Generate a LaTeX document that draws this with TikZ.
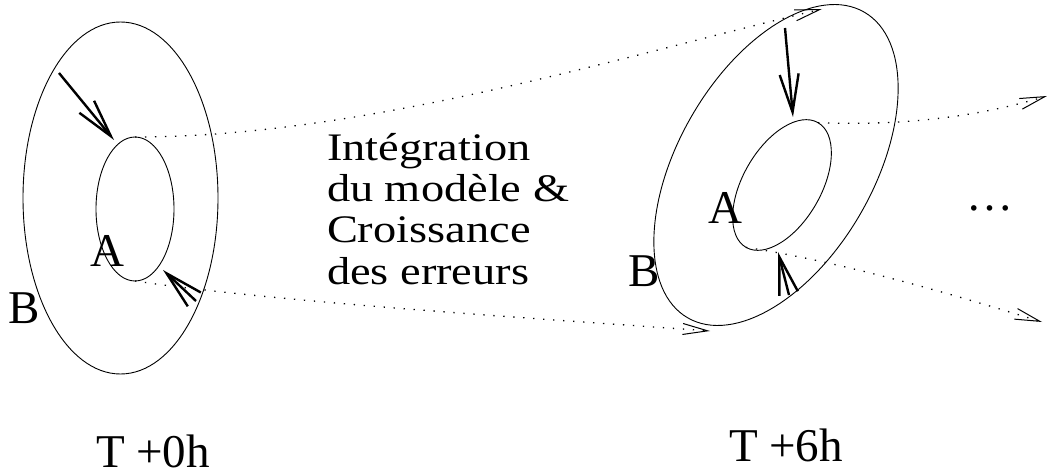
\documentclass[tikz,border=0pt]{standalone}
\usepackage{fontspec}
\setmainfont{Liberation Serif}
\newfontfamily\widefont[FakeStretch=1.19]{Liberation Serif}
\usetikzlibrary{arrows.meta,shapes.geometric}
\begin{document}
\begin{tikzpicture}[x=1pt,y=-1pt,
  ell/.style={draw, ellipse, inner sep=0pt, outer sep=0pt, line width=0.9pt},
  dotline/.style={line width=1.3pt, dash pattern=on 1.3pt off 8.7pt,
    -{Straight Barb[length=25pt,width=11pt,line width=1pt]}},
  bigarrow/.style={line width=2.4pt,
    -{Straight Barb[length=38pt,width=19pt,line width=2.4pt]}},
  lbl/.style={inner sep=0pt, outer sep=0pt, anchor=base west,
    font=\fontsize{47}{52}\selectfont},
  mid/.style={inner sep=0pt, outer sep=0pt, anchor=base west, align=left,
    font=\widefont\fontsize{39}{41.3}\selectfont}]
\useasboundingbox (0,0) rectangle (1047,473);
% ellipses
\node[ell, minimum width=195pt, minimum height=352pt] (outL) at (120.5,198) {};
\node[ell, minimum width=78pt, minimum height=144pt] (inL) at (135,209) {};
\node[ell, minimum width=195pt, minimum height=353pt, rotate=-30] (outR) at (776,165) {};
\node[ell, minimum width=78pt, minimum height=144pt, rotate=-30] (inR) at (782,185) {};
% coordinates
\coordinate (e1) at (822,9);
\coordinate (e2) at (710,331);
\coordinate (e3) at (1047,96);
\coordinate (e4) at (1042,322);
\coordinate (a1s) at (59,73);
\coordinate (a1e) at (114,140);
\coordinate (a2s) at (196,301);
\coordinate (a2e) at (163,270);
\coordinate (a3s) at (785,28);
\coordinate (a3e) at (793,117);
\coordinate (a4s) at (789,295);
\coordinate (a4e) at (778,252);
% dotted connectors
\draw[dotline] (inL.north) .. controls (360,137) and (608,60) .. (e1);
\draw[dotline] (inL.south) .. controls (283,303) and (560,320) .. (e2);
\draw[dotline] (inR.north) .. controls (925,127) and (1000,110) .. (e3);
\draw[dotline] (inR.south) .. controls (842,262) and (952,294) .. (e4);
% solid arrows
\draw[bigarrow] (a1s) -- (a1e);
\draw[bigarrow] (a2s) -- (a2e);
\draw[bigarrow] (a3s) -- (a3e);
\draw[bigarrow] (a4s) -- (a4e);
% labels
\node[lbl] (A1) at (90,266) {A};
\node[lbl] (B1) at (9,323) {B};
\node[lbl] (A2) at (708,224) {A};
\node[lbl] (B2) at (628,287) {B};
\node[lbl] (T0) at (96,467) {T +0h};
\node[lbl] (T6) at (729,461) {T +6h};
\node[lbl] (dots) at (966,211) {…};
\node[mid] (txt) at (327,284) {Intégration\\du modèle \&\\Croissance\\des erreurs};
\end{tikzpicture}
\end{document}
